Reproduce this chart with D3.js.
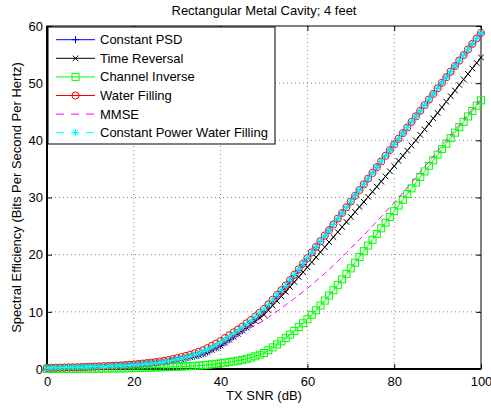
<!DOCTYPE html>
<html>
<head>
<meta charset="utf-8">
<script src="https://cdn.jsdelivr.net/npm/d3@7"></script>
<style>
  body { margin: 0; background: #fff; }
  svg { display: block; font-family: "Liberation Sans", Arial, sans-serif; }
  .axis text { font-size: 13px; fill: #000; }
  .axis line { stroke: #000; }
  .axis path { display: none; }
</style>
</head>
<body>
<div id="chart"></div>
<script>
// TX SNR in dB, one point per dB
const snrDb = d3.range(0, 101);

const xTicks = [0, 20, 40, 60, 80, 100];
const yTicks = [0, 10, 20, 30, 40, 50, 60];

const constantPsd = [
  0.17,0.18,0.19,0.21,0.23,0.25,0.27,0.29,0.31,0.34,
  0.37,0.40,0.43,0.46,0.49,0.51,0.54,0.58,0.63,0.69,
  0.75,0.80,0.86,0.92,0.98,1.05,1.13,1.23,1.34,1.45,
  1.55,1.68,1.85,2.05,2.25,2.40,2.65,2.95,3.35,3.70,
  4.10,4.60,5.10,5.62,6.15,6.70,7.33,7.96,8.62,9.32,
  10.05,10.90,11.75,12.65,13.50,14.35,15.35,16.32,17.30,18.30,
  19.30,20.32,21.32,22.32,23.32,24.30,25.30,26.30,27.30,28.30,
  29.30,30.30,31.30,32.30,33.30,34.30,35.30,36.30,37.30,38.30,
  39.30,40.28,41.26,42.24,43.22,44.20,45.18,46.16,47.14,48.12,
  49.10,50.07,51.04,52.01,52.98,53.95,54.92,55.89,56.86,57.83,
  58.80
];

const timeReversal = [
  0.17,0.18,0.19,0.21,0.23,0.25,0.27,0.29,0.31,0.34,
  0.37,0.40,0.43,0.46,0.49,0.51,0.54,0.58,0.63,0.69,
  0.75,0.80,0.86,0.92,0.98,1.05,1.13,1.23,1.34,1.45,
  1.55,1.68,1.85,2.05,2.25,2.40,2.65,2.95,3.35,3.70,
  4.10,4.60,5.10,5.62,6.15,6.70,7.25,7.82,8.40,8.95,
  9.50,10.30,11.10,11.90,12.70,13.50,14.36,15.22,16.08,16.94,
  17.80,18.68,19.56,20.44,21.32,22.20,23.08,23.96,24.84,25.72,
  26.60,27.48,28.36,29.24,30.12,31.00,31.90,32.80,33.70,34.60,
  35.50,36.40,37.30,38.20,39.10,40.00,40.96,41.92,42.88,43.84,
  44.80,45.78,46.76,47.74,48.72,49.70,50.66,51.62,52.58,53.54,
  54.50
];

const channelInverse = [
  0.02,0.02,0.02,0.03,0.03,0.03,0.03,0.04,0.04,0.04,
  0.05,0.05,0.06,0.07,0.08,0.09,0.10,0.11,0.12,0.13,
  0.15,0.17,0.19,0.21,0.23,0.25,0.28,0.31,0.34,0.37,
  0.40,0.43,0.47,0.51,0.55,0.60,0.66,0.73,0.82,0.91,
  1.00,1.10,1.21,1.33,1.46,1.60,1.78,1.98,2.22,2.50,
  2.80,3.28,3.78,4.30,4.84,5.40,6.02,6.66,7.32,8.00,
  8.70,9.48,10.28,11.10,11.97,12.86,13.78,14.72,15.68,16.64,
  17.60,18.60,19.60,20.60,21.60,22.60,23.60,24.60,25.60,26.60,
  27.60,28.60,29.60,30.60,31.60,32.60,33.58,34.56,35.54,36.52,
  37.50,38.46,39.42,40.38,41.34,42.30,43.24,44.18,45.12,46.06,
  47.00
];

const waterFilling = [
  0.20,0.21,0.22,0.24,0.26,0.28,0.30,0.32,0.34,0.37,
  0.40,0.43,0.46,0.49,0.52,0.55,0.59,0.63,0.68,0.74,
  0.80,0.87,0.95,1.03,1.11,1.20,1.31,1.43,1.57,1.72,
  1.90,2.08,2.28,2.50,2.74,3.00,3.30,3.65,4.05,4.45,
  4.90,5.40,5.90,6.40,6.90,7.40,7.98,8.58,9.20,9.84,
  10.50,11.30,12.10,12.95,13.78,14.60,15.55,16.50,17.45,18.42,
  19.40,20.40,21.38,22.36,23.34,24.30,25.30,26.30,27.30,28.30,
  29.30,30.30,31.30,32.30,33.30,34.30,35.30,36.30,37.30,38.30,
  39.30,40.28,41.26,42.24,43.22,44.20,45.18,46.16,47.14,48.12,
  49.10,50.07,51.04,52.01,52.98,53.95,54.92,55.89,56.86,57.83,
  58.80
];

const mmse = [
  0.17,0.18,0.19,0.21,0.23,0.25,0.27,0.29,0.31,0.34,
  0.37,0.40,0.43,0.46,0.49,0.51,0.54,0.58,0.63,0.69,
  0.75,0.80,0.86,0.92,0.98,1.05,1.13,1.23,1.34,1.45,
  1.55,1.68,1.85,2.05,2.25,2.40,2.65,2.95,3.35,3.70,
  4.10,4.60,5.05,5.50,6.00,6.50,6.88,7.27,7.67,8.08,
  8.50,9.03,9.56,10.10,10.65,11.20,11.77,12.34,12.92,13.51,
  14.10,14.75,15.40,16.05,16.72,17.40,18.13,18.86,19.60,20.35,
  21.10,21.87,22.64,23.42,24.21,25.00,25.81,26.62,27.44,28.27,
  29.10,29.97,30.85,31.73,32.61,33.50,34.42,35.34,36.26,37.18,
  38.10,39.02,39.94,40.86,41.78,42.70,43.62,44.54,45.46,46.38,
  47.30
];

const constPowerWaterFilling = [
  0.19,0.20,0.21,0.23,0.25,0.27,0.29,0.31,0.33,0.35,
  0.38,0.41,0.44,0.46,0.48,0.50,0.53,0.56,0.60,0.65,
  0.70,0.76,0.83,0.90,0.97,1.05,1.15,1.26,1.38,1.52,
  1.68,1.85,2.04,2.26,2.50,2.76,3.06,3.40,3.80,4.22,
  4.68,5.20,5.72,6.24,6.76,7.28,7.88,8.50,9.14,9.80,
  10.48,11.28,12.09,12.94,13.77,14.60,15.55,16.50,17.45,18.42,
  19.40,20.40,21.38,22.36,23.34,24.30,25.30,26.30,27.30,28.30,
  29.30,30.30,31.30,32.30,33.30,34.30,35.30,36.30,37.30,38.30,
  39.30,40.28,41.26,42.24,43.22,44.20,45.18,46.16,47.14,48.12,
  49.10,50.07,51.04,52.01,52.98,53.95,54.92,55.89,56.86,57.83,
  58.80
];

const seriesNames = ['Constant PSD', 'Time Reversal', 'Channel Inverse',
  'Water Filling', 'MMSE', 'Constant Power Water Filling'];
const seriesValues = [constantPsd, timeReversal, channelInverse,
  waterFilling, mmse, constPowerWaterFilling];
const seriesColors = ['#0000ff', '#000000', '#00ff00', '#ff0000', '#ff00ff', '#00ffff'];
const seriesMarkers = ['plus', 'cross', 'square', 'circle', 'none', 'star'];
const seriesDashes = [null, null, null, null, '6,4', '6,4'];

const width = 491;
const height = 408;
const margin = { top: 26, right: 10, bottom: 39, left: 47 };
const innerWidth = width - margin.left - margin.right;
const innerHeight = height - margin.top - margin.bottom;

const svg = d3.select('#chart')
  .append('svg')
  .attr('width', width)
  .attr('height', height);

svg.append('rect')
  .attr('width', width)
  .attr('height', height)
  .attr('fill', '#fff');

const chart = svg.append('g')
  .attr('transform', `translate(${margin.left},${margin.top})`);

const xScale = d3.scaleLinear().domain([0, 100]).range([0, innerWidth]);
const yScale = d3.scaleLinear().domain([0, 60]).range([innerHeight, 0]);

// dotted grid
chart.append('g')
  .selectAll('line')
  .data(xTicks.slice(1, -1))
  .enter()
  .append('line')
  .attr('x1', d => xScale(d)).attr('x2', d => xScale(d))
  .attr('y1', 0).attr('y2', innerHeight)
  .attr('stroke', '#888').attr('stroke-width', 1)
  .attr('stroke-dasharray', '1,3');

chart.append('g')
  .selectAll('line')
  .data(yTicks.slice(1, -1))
  .enter()
  .append('line')
  .attr('y1', d => yScale(d)).attr('y2', d => yScale(d))
  .attr('x1', 0).attr('x2', innerWidth)
  .attr('stroke', '#888').attr('stroke-width', 1)
  .attr('stroke-dasharray', '1,3');

// axes with inward ticks
chart.append('g')
  .attr('class', 'axis')
  .attr('transform', `translate(0,${innerHeight})`)
  .call(d3.axisBottom(xScale).tickValues(xTicks).tickSizeInner(-5).tickSizeOuter(0).tickPadding(8));

chart.append('g')
  .attr('class', 'axis')
  .call(d3.axisLeft(yScale).tickValues(yTicks).tickSizeInner(-5).tickSizeOuter(0).tickPadding(4));

chart.append('g')
  .attr('class', 'axis')
  .call(d3.axisTop(xScale).tickValues(xTicks).tickSizeInner(-5).tickSizeOuter(0).tickFormat(''));

chart.append('g')
  .attr('class', 'axis')
  .attr('transform', `translate(${innerWidth},0)`)
  .call(d3.axisRight(yScale).tickValues(yTicks).tickSizeInner(-5).tickSizeOuter(0).tickFormat(''));

// frame
chart.append('rect')
  .attr('width', innerWidth)
  .attr('height', innerHeight)
  .attr('fill', 'none')
  .attr('stroke', '#000')
  .attr('stroke-width', 1);

chart.append('path')
  .attr('d', `M0,0V${innerHeight}H${innerWidth}`)
  .attr('fill', 'none')
  .attr('stroke', '#000')
  .attr('stroke-width', 2);

// marker drawing helper
function drawMarker(g, type, color) {
  const s = 3.5;
  if (type === 'plus' || type === 'star') {
    g.append('path').attr('d', `M${-s},0H${s}M0,${-s}V${s}`)
      .attr('stroke', color).attr('fill', 'none');
  }
  if (type === 'cross' || type === 'star') {
    const c = type === 'star' ? 2.6 : 2.8;
    g.append('path').attr('d', `M${-c},${-c}L${c},${c}M${-c},${c}L${c},${-c}`)
      .attr('stroke', color).attr('fill', 'none');
  }
  if (type === 'square') {
    g.append('rect').attr('x', -3.5).attr('y', -3.5).attr('width', 7).attr('height', 7)
      .attr('stroke', color).attr('fill', 'none');
  }
  if (type === 'circle') {
    g.append('circle').attr('r', 3.6)
      .attr('stroke', color).attr('fill', 'none');
  }
}

const line = d3.line()
  .x((d, i) => xScale(snrDb[i]))
  .y(d => yScale(d));

seriesValues.forEach((values, k) => {
  const g = chart.append('g');
  g.append('path')
    .datum(values)
    .attr('d', line)
    .attr('fill', 'none')
    .attr('stroke', seriesColors[k])
    .attr('stroke-width', 1)
    .attr('stroke-dasharray', seriesDashes[k]);
  if (seriesMarkers[k] !== 'none') {
    g.selectAll('.marker')
      .data(values)
      .enter()
      .append('g')
      .attr('class', 'marker')
      .attr('transform', (d, i) => `translate(${xScale(snrDb[i])},${yScale(d)})`)
      .each(function() { drawMarker(d3.select(this), seriesMarkers[k], seriesColors[k]); });
  }
});

// legend
const legend = svg.append('g').attr('transform', 'translate(48,27)');
legend.append('rect')
  .attr('width', 227)
  .attr('height', 117)
  .attr('fill', '#fff')
  .attr('stroke', '#000')
  .attr('stroke-width', 1);

seriesNames.forEach((name, k) => {
  const cy = 12.7 + k * 18.6;
  const row = legend.append('g').attr('transform', `translate(0,${cy})`);
  row.append('line')
    .attr('x1', 8).attr('x2', 47)
    .attr('stroke', seriesColors[k])
    .attr('stroke-dasharray', seriesDashes[k] ? '8,7' : null);
  if (seriesMarkers[k] !== 'none') {
    const m = row.append('g').attr('transform', 'translate(27.5,0)');
    drawMarker(m, seriesMarkers[k], seriesColors[k]);
  }
  row.append('text')
    .attr('x', 52)
    .attr('y', 4.5)
    .style('font-size', '13px')
    .text(name);
});

// title and axis labels
svg.append('text')
  .attr('x', 264)
  .attr('y', 15)
  .attr('text-anchor', 'middle')
  .style('font-size', '13px')
  .text('Rectangular Metal Cavity; 4 feet');

svg.append('text')
  .attr('x', 264)
  .attr('y', 400)
  .attr('text-anchor', 'middle')
  .style('font-size', '13px')
  .text('TX SNR (dB)');

svg.append('text')
  .attr('transform', 'translate(21,197.5) rotate(-90)')
  .attr('text-anchor', 'middle')
  .style('font-size', '13px')
  .text('Spectral Efficiency (Bits Per Second Per Hertz)');
</script>
</body>
</html>
